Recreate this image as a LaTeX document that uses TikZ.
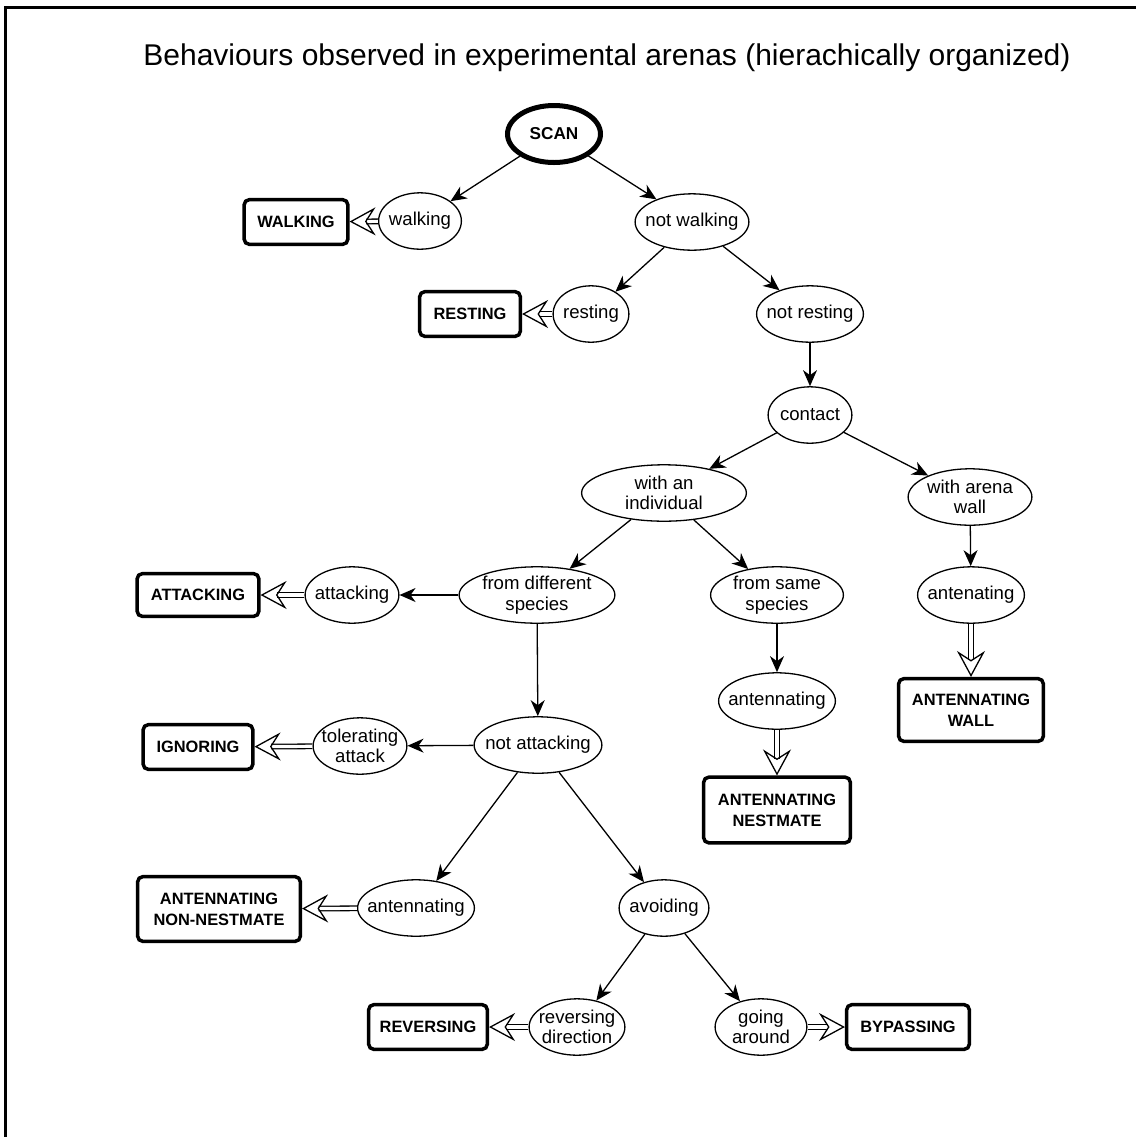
\documentclass[tikz,border=0pt]{standalone}
\usepackage{fontspec}
\setmainfont{Liberation Sans}
\usetikzlibrary{shapes.geometric, arrows.meta}

\tikzset{
  choice/.style={ellipse, draw, line width=0.65pt, inner sep=-10pt, minimum height=28.2pt,
    align=center, font=\fontsize{9.3}{10.3}\selectfont},
  outcome/.style={rectangle, draw, line width=1.75pt, rounded corners=2.5pt, inner sep=0pt,
    align=center, font=\bfseries\fontsize{8.2}{10.4}\selectfont},
  branch/.style={line width=0.65pt, -{Stealth[length=8pt, width=7pt, inset=2.5pt]}},
  result/.style={double, line width=0.65pt, double distance=1.6pt,
    -{Stealth[open, length=13pt, width=14pt, inset=4.5pt]}}
}

\begin{document}
\begin{tikzpicture}[x=0.5pt, y=-0.5pt]
\useasboundingbox (0,0) rectangle (1136,1137);
\draw[line width=1.5pt] (5,1137) -- (5,7) -- (1136,7);

\node[font=\fontsize{15}{18}\selectfont] (title) at (607,58)
  {Behaviours observed in experimental arenas (hierachically organized)};

% decisions
\node[choice, line width=2.5pt, minimum width=46.5pt, minimum height=28.5pt,
  font=\bfseries\fontsize{8.6}{10}\selectfont] (scan) at (554,134) {SCAN};
\node[choice, minimum width=41.4pt] (walking) at (420,221) {walking};
\node[choice, minimum width=56.9pt] (notwalking) at (692,222) {not walking};
\node[choice, minimum width=37.9pt] (resting) at (591,314) {resting};
\node[choice, minimum width=53.4pt] (notresting) at (810,314) {not resting};
\node[choice, minimum width=41.9pt] (contact) at (810,415) {contact};
\node[choice, minimum width=82.4pt] (individual) at (664,493) {with an\\individual};
\node[choice, minimum width=61.9pt] (arenawall) at (970,497) {with arena\\wall};
\node[choice, minimum width=77.9pt] (diffspecies) at (537,595) {from different\\species};
\node[choice, minimum width=66.4pt] (samespecies) at (777,595) {from same\\species};
\node[choice, minimum width=46.9pt] (attacking) at (352,595) {attacking};
\node[choice, minimum width=53.4pt] (antwall) at (971,595) {antenating};
\node[choice, minimum width=58.4pt] (antsame) at (777,701) {antennating};
\node[choice, minimum width=63.9pt] (notattacking) at (538,745) {not attacking};
\node[choice, minimum width=46.9pt] (tolerating) at (360,746) {tolerating\\attack};
\node[choice, minimum width=58.4pt] (antnon) at (416,908) {antennating};
\node[choice, minimum width=44.9pt] (avoiding) at (664,908) {avoiding};
\node[choice, minimum width=47.9pt] (reversing) at (577,1027) {reversing\\direction};
\node[choice, minimum width=45.9pt] (goingaround) at (761,1027) {going\\around};

% behaviours
\node[outcome, minimum width=51.8pt, minimum height=22.3pt] (walkingbox) at (296,222) {WALKING};
\node[outcome, minimum width=50.3pt, minimum height=22.3pt] (restingbox) at (470,314) {RESTING};
\node[outcome, minimum width=60.8pt, minimum height=21.3pt] (attackingbox) at (198,595) {ATTACKING};
\node[outcome, minimum width=54.8pt, minimum height=22.3pt] (ignoringbox) at (198,747) {IGNORING};
\node[outcome, minimum width=81.3pt, minimum height=32.3pt] (antnonbox) at (219,909) {ANTENNATING\\NON-NESTMATE};
\node[outcome, minimum width=59.3pt, minimum height=22.3pt] (reversingbox) at (428,1027) {REVERSING};
\node[outcome, minimum width=61.3pt, minimum height=22.3pt] (bypassingbox) at (908,1027) {BYPASSING};
\node[outcome, minimum width=73.3pt, minimum height=32.8pt] (antsamebox) at (777,810) {ANTENNATING\\NESTMATE};
\node[outcome, minimum width=72.3pt, minimum height=31.3pt] (antwallbox) at (971,710) {ANTENNATING\\WALL};

\foreach \from/\to in {scan/walking, scan/notwalking, notwalking/resting,
    notwalking/notresting, notresting/contact, contact/individual, contact/arenawall,
    individual/diffspecies, individual/samespecies, diffspecies/attacking,
    diffspecies/notattacking, samespecies/antsame, arenawall/antwall,
    notattacking/tolerating, notattacking/antnon, notattacking/avoiding,
    avoiding/reversing, avoiding/goingaround} {%
  \draw[branch] (\from) -- (\to);
}

\foreach \from/\to in {walking/walkingbox, resting/restingbox, attacking/attackingbox,
    tolerating/ignoringbox, antnon/antnonbox, reversing/reversingbox,
    goingaround/bypassingbox, antsame/antsamebox, antwall/antwallbox} {%
  \draw[result] (\from) -- (\to);
}
\end{tikzpicture}
\end{document}
